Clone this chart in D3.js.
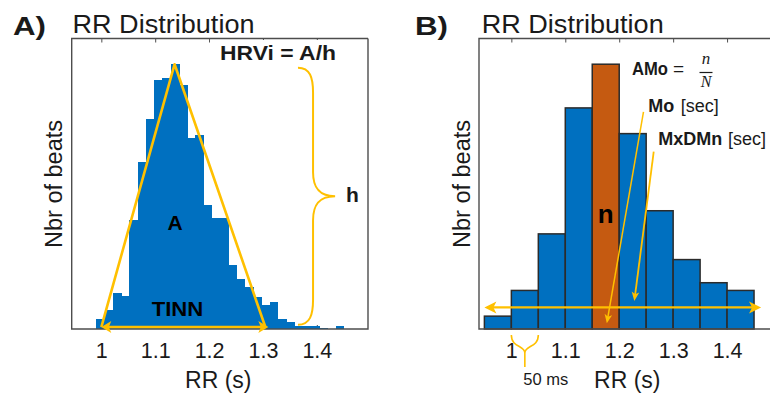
<!DOCTYPE html>
<html>
<head>
<meta charset="utf-8">
<script src="https://cdn.jsdelivr.net/npm/d3@7"></script>
<style>
  body { margin: 0; background: #fff; }
  svg { display: block; font-family: "Liberation Sans", Arial, sans-serif; }
</style>
</head>
<body>
<svg id="chart" width="770" height="394"></svg>
<script>
// ---- data ----
var rrTicks = [1, 1.1, 1.2, 1.3, 1.4];

// A) fine bins
var binStartA = 0.991, binWidthA = 0.0153;
var countsA = [12, 22, 42, 38, 127, 195, 245, 291, 293, 309, 285, 223, 226, 145, 130,
               129, 75, 58, 49, 37, 28, 32, 12, 8, 4, 4, 3, 1, 0, 3];
var tinnNM = [1.0, 1.31];     // triangle base (N, M)
var tinnPeak = 1.136;         // triangle apex
var tinnBase = 2.3;           // count level of the base line
var braceRR = [1.365, 1.393, 1.434];  // brace ends, spine, tip
var braceCounts = [305, 5];

// B) 50 ms bins
var binStartB = 0.95, binWidthB = 0.05;
var countsB = [5, 15, 37, 86, 103, 76, 46, 27, 18, 15];
var modeBin = 4;
var mxdmnRange = [0.95, 1.463];
var mxdmnLevel = 8.4;
var moArrow = [[1.245, 84.5], [1.177, 2.2]];
var mxdmnArrow = [[1.264, 69], [1.228, 10.9]];

var BLUE = "#0070c0", ORANGE = "#c55a11", YELLOW = "#ffc000", AXIS = "#4d4d4d", INK = "#1a1a1a";

var svg = d3.select("#chart");
var plotTop = 38.5, plotBottom = 329;

var xA = d3.scaleLinear().domain([0.945, 1.495]).range([71.7, 368]);
var yA = d3.scaleLinear().domain([0, 339]).range([plotBottom, plotTop]);
var xB = d3.scaleLinear().domain([0.94, 1.5]).range([479, 781]);
var yB = d3.scaleLinear().domain([0, 113]).range([plotBottom, plotTop]);

function txt(g, x, y, s, size, opts) {
  opts = opts || {};
  var t = g.append("text").attr("x", x).attr("y", y).attr("font-size", size)
    .attr("fill", opts.fill || INK).attr("text-anchor", opts.anchor || "start")
    .attr("font-weight", opts.bold ? "bold" : "normal").text(s);
  if (opts.len) t.attr("textLength", opts.len).attr("lengthAdjust", "spacingAndGlyphs");
  if (opts.italic) t.attr("font-style", "italic");
  if (opts.family) t.attr("font-family", opts.family);
  return t;
}

function arrowHead(g, tip, from, len, half) {
  var a = Math.atan2(tip[1] - from[1], tip[0] - from[0]);
  var c = Math.cos(a), s = Math.sin(a);
  var bx = tip[0] - len * c, by = tip[1] - len * s;
  var nx = tip[0] - len * 0.75 * c, ny = tip[1] - len * 0.75 * s;
  g.append("path")
    .attr("d", "M" + tip[0] + "," + tip[1] + "L" + (bx - s * half) + "," + (by + c * half) +
      "L" + nx + "," + ny + "L" + (bx + s * half) + "," + (by - c * half) + "Z")
    .attr("fill", YELLOW);
}

function ticks(g, x) {
  g.append("g").attr("transform", "translate(0," + plotBottom + ")")
    .call(d3.axisBottom(x).tickValues(rrTicks).tickSizeInner(-4).tickSizeOuter(0).tickPadding(14)
      .tickFormat(function(d) { return d === 1 ? "1" : d3.format(".1f")(d); }))
    .call(function(a) {
      a.select(".domain").remove();
      a.selectAll("line").attr("stroke", AXIS);
      a.selectAll("text").attr("font-size", 21.5).attr("fill", INK)
        .attr("font-family", "Liberation Sans, Arial, sans-serif");
    });
  g.append("g").attr("transform", "translate(0," + plotTop + ")")
    .call(d3.axisTop(x).tickValues(rrTicks).tickSizeInner(-4).tickSizeOuter(0).tickFormat(""))
    .call(function(a) { a.select(".domain").remove(); a.selectAll("line").attr("stroke", AXIS); });
}

function box(g, x0, x1, showRight) {
  var d = "M" + x1 + "," + plotTop + "H" + x0 + "V" + plotBottom + "H" + x1 + (showRight ? "V" + plotTop : "");
  g.append("path").attr("d", d).attr("fill", "none").attr("stroke", AXIS).attr("stroke-width", 1.4);
}

// ---------- panel A ----------
var gA = svg.append("g");
ticks(gA, xA);

gA.append("rect").attr("x", 210).attr("y", 40).attr("width", 150).attr("height", 22).attr("fill", "#fff");

gA.selectAll("rect.bar").data(countsA).join("rect").attr("class", "bar")
  .attr("x", function(d, i) { return xA(binStartA + i * binWidthA); })
  .attr("width", function(d, i) { return xA(binStartA + (i + 1) * binWidthA) - xA(binStartA + i * binWidthA) + 0.6; })
  .attr("y", function(d) { return yA(d); })
  .attr("height", function(d) { return yA(0) - yA(d); })
  .attr("fill", BLUE).attr("shape-rendering", "crispEdges");
box(gA, 71.7, 368, true);

// triangle
var apex = [xA(tinnPeak), yA(d3.max(countsA))];
var pN = [xA(tinnNM[0]), yA(tinnBase)], pM = [xA(tinnNM[1]), yA(tinnBase)];
gA.append("path")
  .attr("d", "M" + pN + "L" + apex + "L" + (pM[0] - 3) + "," + pM[1])
  .attr("fill", "none").attr("stroke", YELLOW).attr("stroke-width", 2.6).attr("stroke-linejoin", "round");
gA.append("line").attr("x1", pN[0] + 6).attr("x2", pM[0] - 6).attr("y1", pN[1]).attr("y2", pM[1])
  .attr("stroke", YELLOW).attr("stroke-width", 2.6);
arrowHead(gA, pN, pM, 10, 6);
arrowHead(gA, pM, pN, 10, 6);

// brace for h
(function() {
  var e = xA(braceRR[0]), s = xA(braceRR[1]), t = xA(braceRR[2]);
  var y0 = yA(braceCounts[0]), y1 = yA(braceCounts[1]), ym = (y0 + y1) / 2;
  var d = "M" + e + "," + y0 + "C" + (s - 3) + "," + y0 + " " + s + "," + (y0 + 10) + " " + s + "," + (y0 + 25) +
    "L" + s + "," + (ym - 24) + "C" + s + "," + (ym - 10) + " " + (s + 5) + "," + ym + " " + t + "," + ym +
    "C" + (s + 5) + "," + ym + " " + s + "," + (ym + 10) + " " + s + "," + (ym + 24) +
    "L" + s + "," + (y1 - 25) + "C" + s + "," + (y1 - 10) + " " + (s - 3) + "," + y1 + " " + e + "," + y1;
  gA.append("path").attr("d", d).attr("fill", "none").attr("stroke", YELLOW).attr("stroke-width", 2);
})();

txt(gA, 13, 35, "A)", 26, { bold: true, len: 33 });
txt(gA, 72.5, 33.3, "RR Distribution", 26, { len: 182 });
txt(gA, 220, 59.5, "HRVi = A/h", 21, { bold: true, len: 116 });
txt(gA, 346, 201.5, "h", 21, { bold: true });
txt(gA, 175, 230, "A", 21, { bold: true, anchor: "middle", fill: "#000" });
txt(gA, 177.5, 316, "TINN", 21, { bold: true, anchor: "middle", len: 51.6, fill: "#000" });
txt(gA, 0, 0, "Nbr of beats", 23, { anchor: "middle", len: 128 })
  .attr("transform", "translate(62,184) rotate(-90)");
txt(gA, 218.3, 388, "RR (s)", 23, { anchor: "middle" });

// ---------- panel B ----------
var gB = svg.append("g");
ticks(gB, xB);

gB.selectAll("rect.bar").data(countsB).join("rect").attr("class", "bar")
  .attr("x", function(d, i) { return xB(binStartB + i * binWidthB); })
  .attr("width", function(d, i) { return xB(binStartB + (i + 1) * binWidthB) - xB(binStartB + i * binWidthB); })
  .attr("y", function(d) { return yB(d); })
  .attr("height", function(d) { return yB(0) - yB(d); })
  .attr("fill", function(d, i) { return i === modeBin ? ORANGE : BLUE; })
  .attr("stroke", "#2b2b2b").attr("stroke-width", 1.5);
box(gB, 479, 781, false);

// MxDMn range arrow
(function() {
  var y = yB(mxdmnLevel), a = [xB(mxdmnRange[0]), y], b = [xB(mxdmnRange[1]), y];
  gB.append("line").attr("x1", a[0] + 6).attr("x2", b[0] - 6).attr("y1", y).attr("y2", y)
    .attr("stroke", YELLOW).attr("stroke-width", 2.4);
  arrowHead(gB, a, b, 12, 6);
  arrowHead(gB, b, a, 12, 6);
})();

function pointer(arr, w) {
  var p0 = [xB(arr[0][0]), yB(arr[0][1])], p1 = [xB(arr[1][0]), yB(arr[1][1])];
  var dx = p1[0] - p0[0], dy = p1[1] - p0[1], L = Math.hypot(dx, dy);
  gB.append("line").attr("x1", p0[0]).attr("y1", p0[1])
    .attr("x2", p1[0] - dx / L * 6).attr("y2", p1[1] - dy / L * 6)
    .attr("stroke", YELLOW).attr("stroke-width", w);
  arrowHead(gB, p1, p0, 9, 3.8);
}
pointer(moArrow, 1.5);
pointer(mxdmnArrow, 1.8);

// 50 ms brace under the 1.0-1.05 bin
(function() {
  var l = xB(1.0), r = xB(1.05), c = (l + r) / 2, y0 = 335, yj = 353, y1 = 367;
  var d = "M" + l + "," + y0 + "C" + l + "," + (y0 + 13) + " " + c + "," + (yj - 8) + " " + c + "," + yj +
    "L" + c + "," + y1 + "M" + r + "," + y0 + "C" + r + "," + (y0 + 13) + " " + c + "," + (yj - 8) + " " + c + "," + yj;
  gB.append("path").attr("d", d).attr("fill", "none").attr("stroke", YELLOW).attr("stroke-width", 1.6);
})();

txt(gB, 415, 35, "B)", 26, { bold: true, len: 33 });
txt(gB, 481.7, 33.3, "RR Distribution", 26, { len: 182 });
txt(gB, 632, 75, "AMo", 18, { bold: true, len: 36 });
txt(gB, 673, 75, "=", 19);
txt(gB, 706, 63.5, "n", 17, { italic: true, anchor: "middle", family: "Liberation Serif, serif" });
gB.append("line").attr("x1", 699.5).attr("x2", 712.5).attr("y1", 72.5).attr("y2", 72.5)
  .attr("stroke", INK).attr("stroke-width", 1.2);
txt(gB, 706, 86.7, "N", 16, { italic: true, anchor: "middle", family: "Liberation Serif, serif" });
txt(gB, 648.3, 111.7, "Mo", 18, { bold: true });
txt(gB, 680.7, 111.7, "[sec]", 18);
txt(gB, 658.3, 145, "MxDMn", 18, { bold: true });
txt(gB, 728, 145, "[sec]", 18);
txt(gB, xB(binStartB + (modeBin + 0.5) * binWidthB), 223.3, "n", 26, { bold: true, anchor: "middle", fill: "#000" });
txt(gB, 523.3, 385, "50 ms", 16, { len: 45 });
txt(gB, 0, 0, "Nbr of beats", 23, { anchor: "middle", len: 128 })
  .attr("transform", "translate(470,184) rotate(-90)");
txt(gB, 627.3, 388, "RR (s)", 23, { anchor: "middle" });
</script>
</body>
</html>
